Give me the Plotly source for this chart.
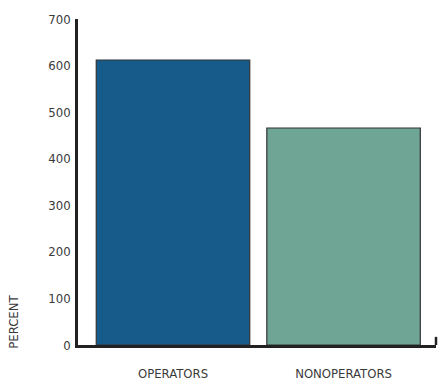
import plotly.graph_objects as go

categories = ["OPERATORS", "NONOPERATORS"]
values = [612, 466]
bar_colors = ["#175b8a", "#6fa595"]
y_ticks = [0, 100, 200, 300, 400, 500, 600, 700]

FONT = "DejaVu Sans Condensed, Liberation Sans Narrow, Arial Narrow, sans-serif"
TEXT = "#3a3a3a"

fig = go.Figure(
    go.Bar(
        x=[0, 1],
        y=values,
        width=0.9,
        marker=dict(color=bar_colors, line=dict(color="#333333", width=1.2)),
        hoverinfo="skip",
    )
)

fig.update_layout(
    template="none",
    width=438,
    height=381,
    margin=dict(l=78, r=2, t=19, b=36),
    paper_bgcolor="white",
    plot_bgcolor="white",
    showlegend=False,
    font=dict(family=FONT, color=TEXT),
    xaxis=dict(
        automargin=False,
        range=[-0.557, 1.542],
        tickvals=[0, 1],
        ticktext=categories,
        showgrid=False,
        zeroline=False,
        showline=True,
        linecolor="#222222",
        linewidth=2.5,
        ticks="outside",
        ticklen=15,
        tickcolor="rgba(0,0,0,0)",
        tickfont=dict(size=13, family=FONT, color=TEXT),
    ),
    yaxis=dict(
        automargin=False,
        range=[0, 700],
        tickvals=y_ticks,
        showgrid=False,
        zeroline=False,
        showline=True,
        linecolor="#222222",
        linewidth=2.5,
        ticks="outside",
        ticklen=2,
        tickcolor="rgba(0,0,0,0)",
        tickfont=dict(size=13, family=FONT, color=TEXT),
    ),
    annotations=[
        dict(
            text="PERCENT",
            xref="paper",
            yref="paper",
            x=-0.18,
            y=0.07,
            xanchor="center",
            yanchor="middle",
            textangle=-90,
            showarrow=False,
            font=dict(size=13, family=FONT, color=TEXT),
        )
    ],
    shapes=[
        dict(
            type="line",
            xref="paper",
            yref="paper",
            x0=1,
            x1=1,
            y0=0,
            y1=0.025,
            line=dict(color="#222222", width=2.5),
        )
    ],
)

fig.write_html("out.html")
